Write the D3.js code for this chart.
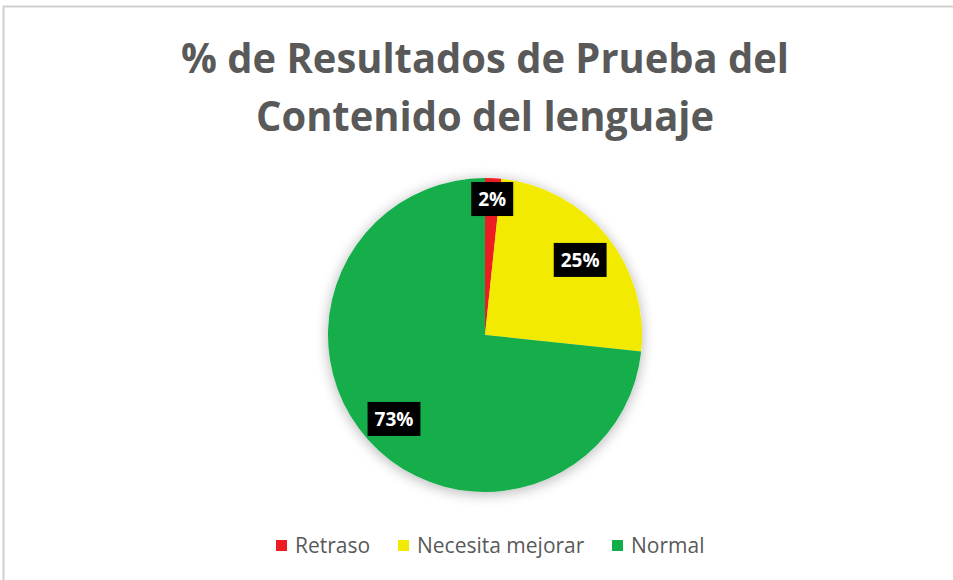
<!DOCTYPE html>
<html>
<head>
<meta charset="utf-8">
<script src="https://cdn.jsdelivr.net/npm/d3@7"></script>
<style>
	body{ margin:0; background:#fff; }
	text{ font-family:"Open Sans", "Noto Sans", sans-serif; }
</style>
</head>
<body>
<svg id="chart" width="953" height="580"></svg>
<script>
"use strict";

// chart data
var categories = ["Retraso", "Necesita mejorar", "Normal"];
var counts = [1, 15, 44];
var colors = ["#ED1C24", "#F2EA00", "#12AD4B"];
var titleLines = ["% de Resultados de Prueba del", "Contenido del lenguaje"];

var W = 953, H = 580;
var cx = 485, cy = 335, R = 157;

var svg = d3.select("#chart");

//	chart frame
svg.append("rect")
	.attr("x", 3.5).attr("y", 6.5)
	.attr("width", W + 10).attr("height", H + 10)
	.attr("fill", "#fff")
	.attr("stroke", "#d0d0d0").attr("stroke-width", 2);

//	soft shadow round the pie
var defs = svg.append("defs");
var flt = defs.append("filter").attr("id", "shadow")
	.attr("x", "-20%").attr("y", "-20%").attr("width", "140%").attr("height", "140%");
flt.append("feGaussianBlur").attr("in", "SourceAlpha").attr("stdDeviation", 7);
flt.append("feOffset").attr("dx", 0).attr("dy", 2).attr("result", "blur");
flt.append("feComponentTransfer").append("feFuncA").attr("type", "linear").attr("slope", 0.3);
var merge = flt.append("feMerge");
merge.append("feMergeNode");
merge.append("feMergeNode").attr("in", "SourceGraphic");

//	title
var title = svg.append("g");
titleLines.forEach(function(line, i){
	title.append("text")
		.attr("x", cx).attr("y", 73 + i * 58)
		.attr("text-anchor", "middle")
		.attr("font-size", 41)
		.attr("font-weight", "bold")
		.attr("fill", "#595959")
		.attr("textLength", i == 0 ? 608 : 458)
		.attr("lengthAdjust", "spacingAndGlyphs")
		.text(line);
});

//	pie
var total = d3.sum(counts);
var pie = d3.pie().sort(null).value(function(d){ return d; });
var arcs = pie(counts);
var arc = d3.arc().innerRadius(0).outerRadius(R);

var g = svg.append("g").attr("transform", "translate(" + cx + "," + cy + ")");
g.append("g").attr("filter", "url(#shadow)")
	.selectAll("path")
	.data(arcs)
	.enter().append("path")
	.attr("d", arc)
	.attr("fill", function(d, i){ return colors[i]; });

//	data labels, small slices pushed outward
var labels = g.selectAll("g.lbl")
	.data(arcs)
	.enter().append("g")
	.attr("class", "lbl")
	.attr("transform", function(d){
		var a = (d.startAngle + d.endAngle) / 2;
		var span = d.endAngle - d.startAngle;
		var r = span < 0.3 ? R * 0.88 : R * 0.78;
		return "translate(" + (r * Math.sin(a)) + "," + (-r * Math.cos(a) + 2) + ")";
	});

labels.each(function(d){
	var lg = d3.select(this);
	var txt = lg.append("text")
		.attr("text-anchor", "middle")
		.attr("dy", "0.36em")
		.attr("font-size", 19)
		.attr("font-weight", "bold")
		.attr("fill", "#fff")
		.text(Math.round(d.value / total * 100) + "%");
	var bb = txt.node().getBBox();
	lg.insert("rect", "text")
		.attr("x", bb.x - 7).attr("y", -17)
		.attr("width", bb.width + 14).attr("height", 34)
		.attr("fill", "#000");
});

//	legend
var legendX = [276, 398, 612];
var legend = svg.append("g").selectAll("g")
	.data(categories)
	.enter().append("g")
	.attr("transform", function(d, i){ return "translate(" + legendX[i] + ",545)"; });

legend.append("rect")
	.attr("x", 0).attr("y", -5)
	.attr("width", 11).attr("height", 11)
	.attr("fill", function(d, i){ return colors[i]; });

legend.append("text")
	.attr("x", 19).attr("dy", "0.36em")
	.attr("font-size", 21)
	.attr("fill", "#595959")
	.text(function(d){ return d; });
</script>
</body>
</html>
